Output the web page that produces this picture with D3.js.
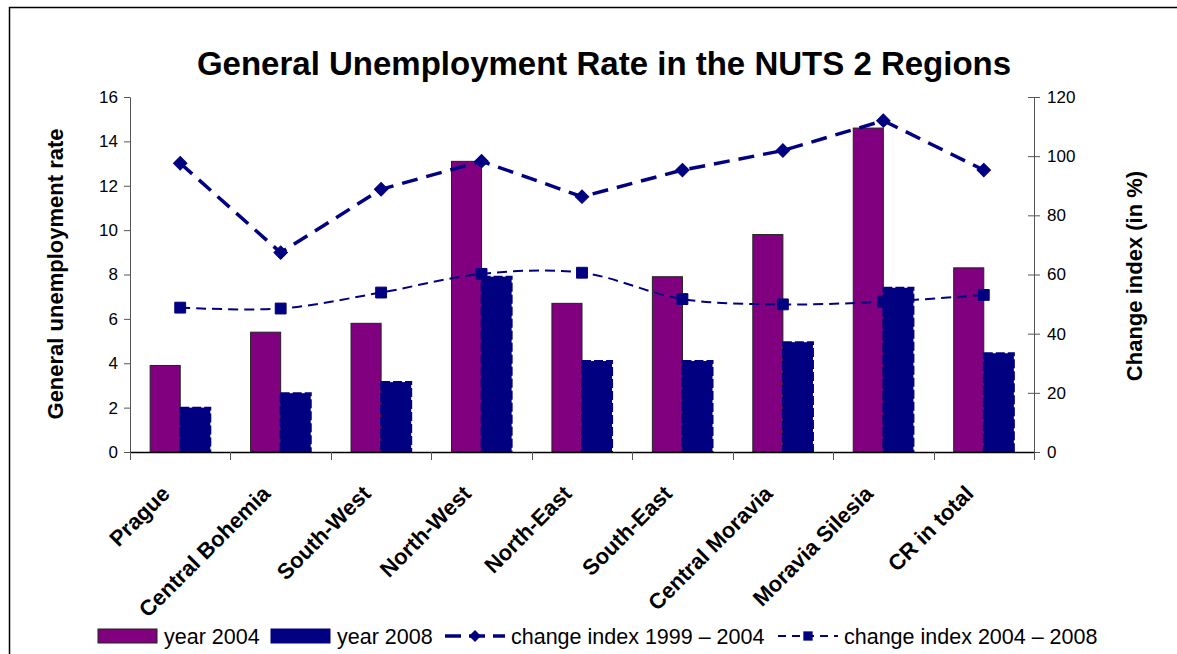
<!DOCTYPE html>
<html>
<head>
<meta charset="utf-8">
<script src="https://cdn.jsdelivr.net/npm/d3@7"></script>
<style>
  html, body { margin: 0; padding: 0; background: #fff; }
  svg { display: block; font-family: "Liberation Sans", Arial, sans-serif; }
</style>
</head>
<body>
<svg id="chart" width="1177" height="654"></svg>
<script>
// Regions (NUTS 2) and the whole Czech Republic
const regions = ["Prague", "Central Bohemia", "South-West", "North-West", "North-East",
                 "South-East", "Central Moravia", "Moravia Silesia", "CR in total"];

// General unemployment rate (%)
const rate2004 = [3.9, 5.4, 5.8, 13.1, 6.7, 7.9, 9.8, 14.6, 8.3];
const rate2008 = [2.0, 2.65, 3.15, 7.9, 4.1, 4.1, 4.95, 7.4, 4.45];

// Change index (in %)
const index1999_2004 = [97.6, 67.4, 88.8, 98.3, 86.3, 95.3, 101.9, 112.0, 95.3];
const index2004_2008 = [48.8, 48.5, 53.9, 60.2, 60.6, 51.7, 49.9, 50.8, 53.1];

const leftTicks = [0, 2, 4, 6, 8, 10, 12, 14, 16];
const rightTicks = [0, 20, 40, 60, 80, 100, 120];

const svg = d3.select("#chart");
const purple = "#800080", navy = "#000080";

const plot = { left: 130, right: 1034, top: 97, bottom: 452 };

// outer frame
svg.append("path")
  .attr("d", `M9.5,660 V7.5 H1180`)
  .attr("fill", "none").attr("stroke", "#000").attr("stroke-width", 1.5);

const x = d3.scaleBand().domain(regions).range([plot.left, plot.right]).paddingInner(0).paddingOuter(0);
const inner = d3.scaleBand().domain(["y2004", "y2008"]).range([0, x.bandwidth()]).paddingInner(0).paddingOuter(0.67);
const yL = d3.scaleLinear().domain([0, 16]).range([plot.bottom, plot.top]);
const yR = d3.scaleLinear().domain([0, 120]).range([plot.bottom, plot.top]);

// title
svg.append("text")
  .attr("x", 604).attr("y", 75)
  .attr("text-anchor", "middle")
  .attr("font-size", 33).attr("font-weight", "bold")
  .text("General Unemployment Rate in the NUTS 2 Regions");

// bars
const bars = svg.append("g");
bars.selectAll("rect.b04").data(regions).join("rect")
  .attr("x", d => x(d) + inner("y2004"))
  .attr("y", (d, i) => yL(rate2004[i]))
  .attr("width", inner.bandwidth())
  .attr("height", (d, i) => yL(0) - yL(rate2004[i]))
  .attr("fill", purple).attr("stroke", "#222").attr("stroke-width", 1);
bars.selectAll("rect.b08").data(regions).join("rect")
  .attr("x", d => x(d) + inner("y2008"))
  .attr("y", (d, i) => yL(rate2008[i]))
  .attr("width", inner.bandwidth())
  .attr("height", (d, i) => yL(0) - yL(rate2008[i]))
  .attr("fill", navy).attr("stroke", navy).attr("stroke-width", 2)
  .attr("stroke-dasharray", "9,3");

// left axis
const axL = svg.append("g").attr("transform", `translate(${plot.left},0)`)
  .call(d3.axisLeft(yL).tickValues(leftTicks).tickSize(6).tickSizeOuter(0).tickFormat(d3.format("d")));
axL.select(".domain").attr("stroke", "#555");
axL.selectAll(".tick line").attr("stroke", "#555").attr("x1", -6).attr("x2", 0);
axL.selectAll(".tick text").attr("font-size", 17).attr("font-family", "Liberation Sans, Arial, sans-serif")
  .attr("fill", "#000").attr("x", -12);

// right axis
const axR = svg.append("g").attr("transform", `translate(${plot.right},0)`)
  .call(d3.axisRight(yR).tickValues(rightTicks).tickSize(6).tickSizeOuter(0).tickFormat(d3.format("d")));
axR.select(".domain").attr("stroke", "#555");
axR.selectAll(".tick line").attr("stroke", "#555").attr("x1", -6).attr("x2", 6);
axR.selectAll(".tick text").attr("font-size", 17).attr("font-family", "Liberation Sans, Arial, sans-serif")
  .attr("fill", "#000").attr("x", 13);

// bottom axis line with ticks at category boundaries
const axB = svg.append("g");
axB.append("line").attr("x1", plot.left).attr("x2", plot.right)
  .attr("y1", plot.bottom + 0.5).attr("y2", plot.bottom + 0.5).attr("stroke", "#000").attr("stroke-width", 1.3);
const bounds = regions.map(d => x(d)).concat([plot.right]);
axB.selectAll("line.tk").data(bounds).join("line")
  .attr("x1", d => Math.round(d) + 0.5).attr("x2", d => Math.round(d) + 0.5)
  .attr("y1", plot.bottom).attr("y2", plot.bottom + 8).attr("stroke", "#555");

// category labels
axB.selectAll("text.cat").data(regions).join("text")
  .attr("transform", d => `translate(${x(d) + x.bandwidth() / 2 - 9},${plot.bottom + 43}) rotate(-45)`)
  .attr("text-anchor", "end")
  .attr("font-size", 22).attr("font-weight", "bold")
  .text(d => d);

// axis titles
svg.append("text")
  .attr("transform", `translate(63,274) rotate(-90)`)
  .attr("text-anchor", "middle").attr("font-size", 22).attr("font-weight", "bold")
  .text("General unemployment rate");
svg.append("text")
  .attr("transform", `translate(1142,276) rotate(-90)`)
  .attr("text-anchor", "middle").attr("font-size", 22).attr("font-weight", "bold")
  .text("Change index (in %)");

// lines
const cx = d => x(d) + x.bandwidth() / 2;
const line1 = d3.line().x((v, i) => cx(regions[i])).y(v => yR(v));
const line2 = d3.line().x((v, i) => cx(regions[i])).y(v => yR(v)).curve(d3.curveCatmullRom.alpha(0.5));

svg.append("path").datum(index2004_2008).attr("d", line2)
  .attr("fill", "none").attr("stroke", navy).attr("stroke-width", 2).attr("stroke-dasharray", "10,6");
svg.append("path").datum(index1999_2004).attr("d", line1)
  .attr("fill", "none").attr("stroke", navy).attr("stroke-width", 3.5).attr("stroke-dasharray", "16,9");

// markers
svg.selectAll("path.dia").data(index1999_2004).join("path")
  .attr("transform", (v, i) => `translate(${cx(regions[i])},${yR(v)}) rotate(45)`)
  .attr("d", d3.symbol().type(d3.symbolSquare2).size(115))
  .attr("fill", navy).attr("stroke", navy);
svg.selectAll("path.sq").data(index2004_2008).join("path")
  .attr("transform", (v, i) => `translate(${cx(regions[i])},${yR(v)})`)
  .attr("d", d3.symbol().type(d3.symbolSquare2).size(150))
  .attr("fill", navy).attr("stroke", navy);

// legend
const legend = svg.append("g").attr("font-size", 21.5);
const ly = 636;
const items = [
  { label: "year 2004", kind: "bar", color: purple, x: 98 },
  { label: "year 2008", kind: "bar", color: navy, x: 271 },
  { label: "change index 1999 \u2013 2004", kind: "dia", x: 445 },
  { label: "change index 2004 \u2013 2008", kind: "sq", x: 778 }
];
items.forEach(it => {
  const g = legend.append("g").attr("transform", `translate(${it.x},${ly})`);
  if (it.kind === "bar") {
    g.append("rect").attr("x", 0).attr("y", -7).attr("width", 59).attr("height", 14)
      .attr("fill", it.color).attr("stroke", it.color === purple ? "#222" : it.color);
  } else if (it.kind === "dia") {
    g.append("line").attr("x1", 0).attr("x2", 60).attr("y1", 0).attr("y2", 0)
      .attr("stroke", navy).attr("stroke-width", 3.5).attr("stroke-dasharray", "16,8");
    g.append("path").attr("transform", "translate(30,0) rotate(45)")
      .attr("d", d3.symbol().type(d3.symbolSquare2).size(90)).attr("fill", navy);
  } else {
    g.append("line").attr("x1", 0).attr("x2", 60).attr("y1", 0).attr("y2", 0)
      .attr("stroke", navy).attr("stroke-width", 2).attr("stroke-dasharray", "8,6");
    g.append("path").attr("transform", "translate(30,0)")
      .attr("d", d3.symbol().type(d3.symbolSquare2).size(110)).attr("fill", navy);
  }
  g.append("text").attr("x", 66).attr("y", 8).text(it.label);
});
</script>
</body>
</html>
